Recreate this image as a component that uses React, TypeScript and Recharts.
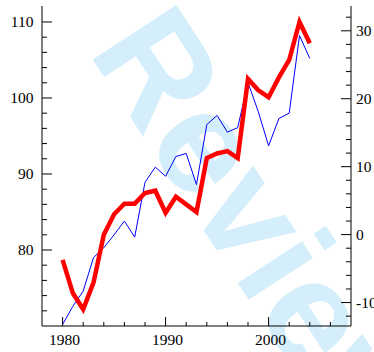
import React from 'react';
import { LineChart, Line, XAxis, YAxis } from 'recharts';

const years = [1980, 1981, 1982, 1983, 1984, 1985, 1986, 1987, 1988, 1989, 1990, 1991, 1992, 1993, 1994, 1995, 1996, 1997, 1998, 1999, 2000, 2001, 2002, 2003, 2004];
const redSeries = [78.7, 74.3, 72.2, 75.7, 82.0, 84.7, 86.1, 86.1, 87.5, 87.8, 84.9, 87.0, 86.0, 85.0, 92.1, 92.7, 93.0, 92.1, 102.5, 101.0, 100.1, 102.7, 105.0, 110.0, 107.2];
const blueSeries = [70.2, 72.6, 74.6, 79.0, 80.3, 82.0, 83.8, 81.7, 88.9, 90.9, 89.7, 92.3, 92.7, 88.6, 96.5, 97.7, 95.5, 96.1, 102.0, 98.2, 93.7, 97.3, 98.0, 108.2, 105.2];

const yearTicks = [1980, 1982, 1984, 1986, 1988, 1990, 1992, 1994, 1996, 1998, 2000, 2002, 2004, 2006];
const yearLabels = [1980, 1990, 2000];
const leftTicks = [72, 74, 76, 78, 80, 82, 84, 86, 88, 90, 92, 94, 96, 98, 100, 102, 104, 106, 108, 110];
const leftLabels = [80, 90, 100, 110];
const rightTicks = [-12, -10, -8, -6, -4, -2, 0, 2, 4, 6, 8, 10, 12, 14, 16, 18, 20, 22, 24, 26, 28, 30, 32];
const rightLabels = [-10, 0, 10, 20, 30];
const watermark = 'For Review';

const data = years.map((year, i) => ({ year, red: redSeries[i], blue: blueSeries[i] }));

const FONT = '"Liberation Serif", "Times New Roman", serif';
const FS = 15.5;

const BottomTick = (props: any) => {
  const { x, y, payload } = props;
  const major = yearLabels.includes(payload.value);
  return (
    <g>
      <line x1={x} x2={x} y1={y} y2={y - (major ? 9 : 4)} stroke="#000" strokeWidth={1} />
      {major && (
        <text x={x + 2} y={y + 19} textAnchor="middle" fontFamily={FONT} fontSize={FS} fill="#000">
          {payload.value}
        </text>
      )}
    </g>
  );
};

const LeftTick = (props: any) => {
  const { x, y, payload } = props;
  const major = leftLabels.includes(payload.value);
  return (
    <g>
      <line x1={x} x2={x + (major ? 10 : 5)} y1={y} y2={y} stroke="#000" strokeWidth={1} />
      {major && (
        <text x={x - 8.5} y={y + 5} textAnchor="end" fontFamily={FONT} fontSize={FS} fill="#000">
          {payload.value}
        </text>
      )}
    </g>
  );
};

const RightTick = (props: any) => {
  const { x, y, payload } = props;
  const major = rightLabels.includes(payload.value);
  return (
    <g>
      <line x1={x} x2={x - (major ? 10 : 5)} y1={y} y2={y} stroke="#000" strokeWidth={1} />
      {major && (
        <text x={x + 5} y={y + 5} textAnchor="start" fontFamily={FONT} fontSize={FS} fill="#000">
          {payload.value}
        </text>
      )}
    </g>
  );
};

export default function App() {
  return (
    <div style={{ position: 'absolute', left: 0, top: 0, width: 374, height: 352 }}>
      <svg width={374} height={352} style={{ position: 'absolute', left: 0, top: 0 }}>
        <text
          x={149}
          y={146}
          textAnchor="middle"
          fontFamily='"Liberation Sans", Arial, sans-serif'
          fontWeight="bold"
          fontSize={145}
          fill="#d4effb"
          transform="rotate(57 149 146)"
        >
          {watermark}
        </text>
      </svg>
      <div style={{ position: 'absolute', left: 0, top: 0 }}>
        <LineChart width={374} height={352} data={data} margin={{ top: 6, right: 0, bottom: 0, left: 0 }}>
          <XAxis
            dataKey="year"
            type="number"
            domain={[1978, 2008]}
            ticks={yearTicks}
            allowDataOverflow
            height={26}
            tickSize={0}
            tickMargin={0}
            tickLine={false}
            axisLine={{ stroke: '#000', strokeWidth: 1 }}
            tick={<BottomTick />}
            interval={0}
          />
          <YAxis
            yAxisId="left"
            orientation="left"
            type="number"
            domain={[70, 112.1]}
            ticks={leftTicks}
            allowDataOverflow
            width={42}
            tickSize={0}
            tickMargin={0}
            tickLine={false}
            axisLine={{ stroke: '#000', strokeWidth: 1 }}
            tick={<LeftTick />}
            interval={0}
          />
          <YAxis
            yAxisId="right"
            orientation="right"
            type="number"
            domain={[-13.45, 33.65]}
            ticks={rightTicks}
            allowDataOverflow
            width={23}
            tickSize={0}
            tickMargin={0}
            tickLine={false}
            axisLine={{ stroke: '#000', strokeWidth: 1 }}
            tick={<RightTick />}
            interval={0}
          />
          <Line
            yAxisId="left"
            type="linear"
            dataKey="blue"
            stroke="#0000ff"
            strokeWidth={1}
            dot={false}
            isAnimationActive={false}
          />
          <Line
            yAxisId="left"
            type="linear"
            dataKey="red"
            stroke="#ff0000"
            strokeWidth={4.5}
            strokeLinejoin="miter"
            dot={false}
            isAnimationActive={false}
          />
        </LineChart>
      </div>
    </div>
  );
}
